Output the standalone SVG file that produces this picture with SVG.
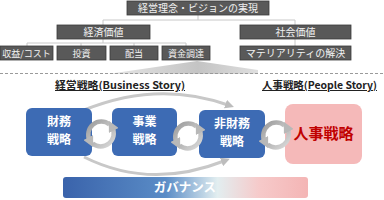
<svg xmlns="http://www.w3.org/2000/svg" xmlns:xlink="http://www.w3.org/1999/xlink" width="384" height="200" viewBox="0 0 384 200">
<style>
.gb{fill:#595959;stroke:#3a3a3a;stroke-width:0.8}
.gt{font-family:"Noto Sans CJK JP","Noto Sans",sans-serif;fill:#f2f2f2;text-anchor:middle}
.tl{fill:none;stroke:#c8c8c8;stroke-width:1}
.bb{fill:#3d6bb4}
.bt{font-family:"Noto Sans CJK JP","Noto Sans",sans-serif;font-weight:bold;font-size:12px;fill:#ffffff;text-anchor:middle}
.hd{font-family:"Noto Sans CJK JP","Noto Sans",sans-serif;font-weight:bold;font-size:10px;fill:#222;text-decoration:underline}
.cy{fill:none;stroke:url(#cyg);stroke-width:4.5}
.arc{fill:none;stroke:#c8c8c8;stroke-width:3}
</style>
<defs>
<linearGradient id="gov" x1="0" y1="0" x2="1" y2="0">
<stop offset="0" stop-color="#3a63ab"/>
<stop offset="0.42" stop-color="#5a8cc6"/>
<stop offset="0.63" stop-color="#e2eef0"/>
<stop offset="0.8" stop-color="#f6caca"/>
<stop offset="1" stop-color="#f4b5b5"/>
</linearGradient>
<linearGradient id="cyg" x1="0" y1="0" x2="1" y2="1">
<stop offset="0" stop-color="#9a9a9a"/>
<stop offset="1" stop-color="#dcdcdc"/>
</linearGradient>
<linearGradient id="fun" x1="0" y1="0" x2="1" y2="0">
<stop offset="0" stop-color="#e6e6e6"/>
<stop offset="0.6" stop-color="#c4c4c4"/>
<stop offset="1" stop-color="#dedede"/>
</linearGradient>
<marker id="ah" viewBox="0 0 10 10" refX="3" refY="5" markerWidth="11" markerHeight="11" markerUnits="userSpaceOnUse" orient="auto">
<path d="M0,0 L10,5 L0,10 z" fill="#b8b8b8"/>
</marker>
<marker id="ah2" viewBox="0 0 10 10" refX="3" refY="5" markerWidth="9" markerHeight="9" markerUnits="userSpaceOnUse" orient="auto">
<path d="M0,0 L10,5 L0,10 z" fill="#bdbdbd"/>
</marker>
<g id="cycle">
<path class="cy" d="M 8.5 -9.5 A 13 13 0 0 0 -11.3 6.5" marker-end="url(#ah)"/>
<path class="cy" d="M -8.5 9.5 A 13 13 0 0 0 11.3 -6.5" marker-end="url(#ah)"/>
</g>
</defs>
<rect width="384" height="200" fill="#ffffff"/>

<g id="connectors">
<path class="tl" d="M198 15 V20 M103 25 V20 H295 V25 M295 39 V46 M103 39 V43 M27 46 V43 H186 V46 M81 43 V46 M134 43 V46"/>
<polygon points="108,74 197,61 258,70 258,74" fill="url(#fun)"/>
<line x1="0" y1="73.5" x2="384" y2="73.5" stroke="#9a9a9a" stroke-width="1" stroke-dasharray="3,2"/>
<path class="arc" d="M84 110 Q158 80 228 105" marker-end="url(#ah2)"/>
<path class="arc" d="M84 157 Q150 190 224 161" marker-end="url(#ah2)"/>
</g>

<g id="n-vision"><rect class="gb" x="127" y="1" width="142" height="14"/><text class="gt" x="198" y="12" font-size="10">経営理念・ビジョンの実現</text></g>
<g id="n-econ"><rect class="gb" x="57" y="25" width="93" height="14"/><text class="gt" x="103.5" y="36" font-size="10">経済価値</text></g>
<g id="n-social"><rect class="gb" x="240" y="25" width="111" height="14"/><text class="gt" x="295.5" y="36" font-size="10">社会価値</text></g>
<g id="n-profit"><rect class="gb" x="0" y="46" width="53" height="14"/><text class="gt" x="26.5" y="56.5" font-size="9">収益/コスト</text></g>
<g id="n-invest"><rect class="gb" x="57" y="46" width="49" height="14"/><text class="gt" x="81.5" y="56.5" font-size="9">投資</text></g>
<g id="n-divid"><rect class="gb" x="110" y="46" width="48" height="14"/><text class="gt" x="134" y="56.5" font-size="9">配当</text></g>
<g id="n-fund"><rect class="gb" x="162" y="46" width="48" height="14"/><text class="gt" x="186" y="56.5" font-size="9">資金調達</text></g>
<g id="n-mat"><rect class="gb" x="240" y="46" width="111" height="14"/><text class="gt" x="295.5" y="57" font-size="10">マテリアリティの解決</text></g>

<g id="h-business"><text class="hd" x="55" y="89" textLength="130" lengthAdjust="spacingAndGlyphs">経営戦略(Business Story)</text></g>
<g id="h-people"><text class="hd" x="262" y="89" textLength="115" lengthAdjust="spacingAndGlyphs">人事戦略(People Story)</text></g>

<g id="n-fin"><rect class="bb" x="26" y="108" width="66" height="48" rx="6"/><text class="bt" x="59" y="126">財務</text><text class="bt" x="59" y="144">戦略</text></g>
<g id="n-biz"><rect class="bb" x="112" y="108" width="65" height="48" rx="6"/><text class="bt" x="144.5" y="126">事業</text><text class="bt" x="144.5" y="144">戦略</text></g>
<g id="n-nonfin"><rect class="bb" x="199" y="110" width="66" height="48" rx="6"/><text class="bt" x="232" y="128">非財務</text><text class="bt" x="232" y="146">戦略</text></g>
<g id="n-hr"><rect x="285" y="104" width="77" height="60" rx="8" fill="#f5b9b9"/><text x="323.5" y="139" font-family="Noto Sans CJK JP, Noto Sans, sans-serif" font-weight="bold" font-size="15" fill="#c00000" text-anchor="middle">人事戦略</text></g>

<g id="cycles">
<use xlink:href="#cycle" href="#cycle" x="101" y="134"/>
<use xlink:href="#cycle" href="#cycle" x="188" y="136"/>
<use xlink:href="#cycle" href="#cycle" x="276" y="135"/>
</g>

<g id="n-gov"><rect x="63" y="177" width="245" height="21" rx="3" fill="url(#gov)"/><text x="185" y="192" font-family="Noto Sans CJK JP, Noto Sans, sans-serif" font-weight="bold" font-size="12.5" fill="#ffffff" text-anchor="middle">ガバナンス</text></g>
</svg>
